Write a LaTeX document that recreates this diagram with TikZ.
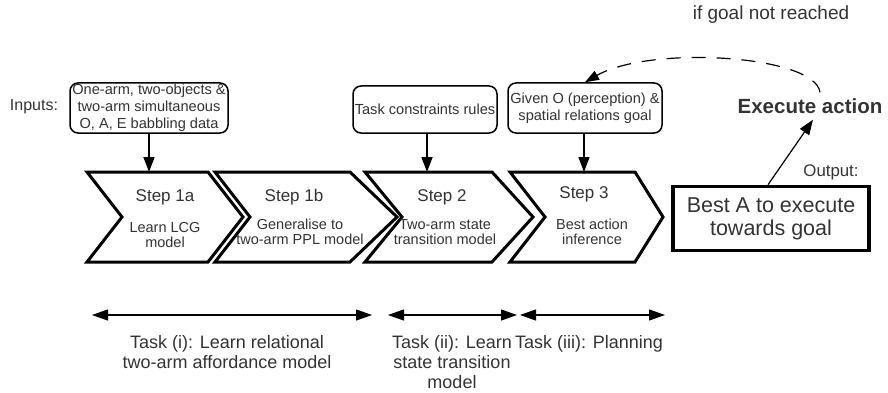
\documentclass[tikz,border=0pt]{standalone}
\usepackage{fontspec}
\setmainfont{Liberation Sans}
\usetikzlibrary{arrows.meta}
\definecolor{txt}{HTML}{333333}
\newcommand\fsz[2]{\fontsize{#1pt}{#2pt}\selectfont}
\begin{document}
\begin{tikzpicture}[x=1pt,y=-1pt,
  chev/.style={draw=black,line width=3pt,fill=white,line join=miter},
  steptitle/.style={text=txt,font=\fsz{17}{18},inner sep=0pt},
  stepsub/.style={text=txt,font=\fsz{14.5}{15.5},align=center,inner sep=0pt},
  inbox/.style={draw=black,line width=1.5pt,rounded corners=8pt,fill=white,text=txt,font=\fsz{14.6}{16.8},align=center,inner sep=0pt},
  outbox/.style={draw=black,line width=3.5pt,fill=white,text=txt,font=\fsz{21.5}{23},align=center,inner sep=0pt,minimum width=196pt,minimum height=64pt},
  lbl/.style={text=txt,inner sep=0pt},
  tasklbl/.style={text=txt,font=\fsz{18}{20},align=center,inner sep=0pt,anchor=north},
  feed/.style={line width=1.5pt,-{Triangle[length=15pt,width=11pt]}},
  span/.style={line width=1.2pt,{Triangle[length=16pt,width=11pt]}-{Triangle[length=16pt,width=11pt]}},
  loop/.style={line width=1.2pt,dash pattern=on 14pt off 11pt,-{Triangle[length=14pt,width=10pt]}}
]
\useasboundingbox (0,0) rectangle (888,393);

% chevrons
\draw[chev] (87,172) -- (208,172) -- (243,217) -- (208,262) -- (87,262) -- (122,217) -- cycle;
\draw[chev] (215,172) -- (350,172) -- (397,217) -- (350,262) -- (215,262) -- (250,217) -- cycle;
\draw[chev] (365,172) -- (492,172) -- (533,217) -- (492,262) -- (365,262) -- (402,217) -- cycle;
\draw[chev] (510,172) -- (635,172) -- (663,217) -- (635,262) -- (510,262) -- (545,217) -- cycle;

\coordinate (c1) at (149,172);
\coordinate (c3) at (427,172);
\coordinate (c4) at (584,172);

% step texts
\node[steptitle] (s1a) at (165,197) {Step 1a};
\node[stepsub] (s1asub) at (165,235) {Learn LCG\\model};
\node[steptitle] (s1b) at (294,197) {Step 1b};
\node[stepsub] (s1bsub) at (300,232) {Generalise to\\two-arm PPL model};
\node[steptitle] (s2) at (442,197) {Step 2};
\node[stepsub] (s2sub) at (445,232) {Two-arm state\\transition model};
\node[steptitle] (s3) at (584,194) {Step 3};
\node[stepsub] (s3sub) at (592,232) {Best action\\inference};

% inputs
\node[lbl,font=\fsz{16}{18}] (inp) at (34,107) {Inputs:};
\node[inbox,minimum width=158pt,minimum height=50pt] (in1) at (149,108) {One-arm, two-objects \&\\two-arm simultaneous\\O, A, E babbling data};
\node[inbox,minimum width=144pt,minimum height=47pt] (in2) at (425,109.5) {Task constraints rules};
\node[inbox,minimum width=154pt,minimum height=50pt] (in3) at (585,108) {Given O (perception) \&\\spatial relations goal};

\draw[feed] (in1.south) -- (c1);
\draw[feed] (in2.south -| c3) -- (c3);
\draw[feed] (in3.south -| c4) -- (c4);

% output
\node[outbox] (out) at (771,218.5) {Best A to execute\\towards goal};
\node[lbl,font=\fsz{16.8}{18}] (outl) at (831,172) {Output:};
\node[lbl,font=\bfseries\fsz{20.5}{22},inner ysep=6pt] (exec) at (810,106) {Execute action};
\draw[feed,line width=1.2pt] ([xshift=-3pt]out.north) -- ([xshift=3pt]exec.south);
\node[lbl,font=\fsz{19}{21}] (ifg) at (771,15) {if goal not reached};
\draw[loop] ([xshift=10pt]exec.north) .. controls (815,55) and (650,45) .. (in3.north);

% task spans
\coordinate (a1l) at (92,315);
\coordinate (a1r) at (372,315);
\coordinate (a2l) at (388,315);
\coordinate (a2r) at (517,315);
\coordinate (a3l) at (520,315);
\coordinate (a3r) at (665,315);
\draw[span] (a1l) -- (a1r);
\draw[span] (a2l) -- (a2r);
\draw[span] (a3l) -- (a3r);
\node[tasklbl] (t1) at (227,335) {Task (i): Learn relational\\two-arm affordance model};
\node[tasklbl] (t2) at (452,335) {Task (ii): Learn\\state transition\\model};
\node[tasklbl] (t3) at (589,335) {Task (iii): Planning};
\end{tikzpicture}
\end{document}
